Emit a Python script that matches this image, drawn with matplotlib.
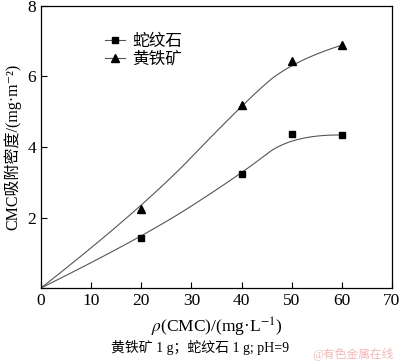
import numpy as np
import matplotlib
matplotlib.use("Agg")
import matplotlib.pyplot as plt

plt.rcParams['font.family'] = ['Liberation Serif', 'Noto Sans CJK SC', 'DejaVu Serif']
plt.rcParams['mathtext.fontset'] = 'stix'

# CMC concentration, mg/L
conc = [0, 20, 40, 50, 60]
# adsorption density, mg/m^2
serpentine = [0, 1.41, 3.24, 4.36, 4.34]
pyrite = [0, 2.23, 5.19, 6.44, 6.89]

names = ["蛇纹石", "黄铁矿"]


def bspline2(px, py, n=60):
    # clamped quadratic B-spline using the data points as control points
    P = np.column_stack([px, py]).astype(float)
    mids = (P[:-1] + P[1:]) / 2
    starts = [P[0]] + list(mids[1:-1])
    ends = list(mids[1:-1]) + [P[-1]]
    t = np.linspace(0, 1, n)[:, None]
    segs = []
    for s, c, e in zip(starts, P[1:-1], ends):
        segs.append((1 - t)**2 * s + 2 * (1 - t) * t * c + t**2 * e)
    curve = np.vstack(segs)
    return curve[:, 0], curve[:, 1]


fig = plt.figure(figsize=(4.0, 3.63), dpi=100)
ax = fig.add_axes([0.1025, 0.2066, 0.8775, 0.7769])

for vals, mk, ms, name in [(serpentine, "s", 5, names[0]), (pyrite, "^", 6, names[1])]:
    cx, cy = bspline2(conc, vals)
    ax.plot(cx, cy, color="#555555", lw=0.8)
    ax.plot(conc[1:], vals[1:], ls="none", marker=mk, ms=ms, color="black")
    ax.plot([], [], color="#555555", lw=0.8, marker=mk, ms=ms, mfc="black", mec="black", label=name)

ax.set_xlim(0, 70)
ax.set_ylim(0, 8)
ax.set_xticks(range(0, 71, 10))
ax.set_yticks([0, 2, 4, 6, 8])
ax.set_yticklabels(["", "2", "4", "6", "8"])
ax.tick_params(direction="in", length=4, labelsize=12.5, width=0.8)
for s in ax.spines.values():
    s.set_linewidth(0.9)

ax.set_ylabel("CMC吸附密度/(mg·m⁻²)", fontsize=11.5, labelpad=4)
ax.set_xlabel(r"$\rho$(CMC)/(mg·L$^{-1}$)", fontsize=12.5, labelpad=5)

ax.legend(loc="upper left", bbox_to_anchor=(0.16, 0.93), frameon=False, fontsize=12,
          handlelength=1.2, handletextpad=0.4, labelspacing=0.1, borderpad=0)

fig.text(0.5, 0.043, "黄铁矿 1 g；蛇纹石 1 g; pH=9", ha="center", va="center", fontsize=10)
fig.text(0.985, 0.015, "@有色金属在线", ha="right", fontsize=8.5, color="#f2b8b8")

fig.savefig("out.png", dpi=100)
